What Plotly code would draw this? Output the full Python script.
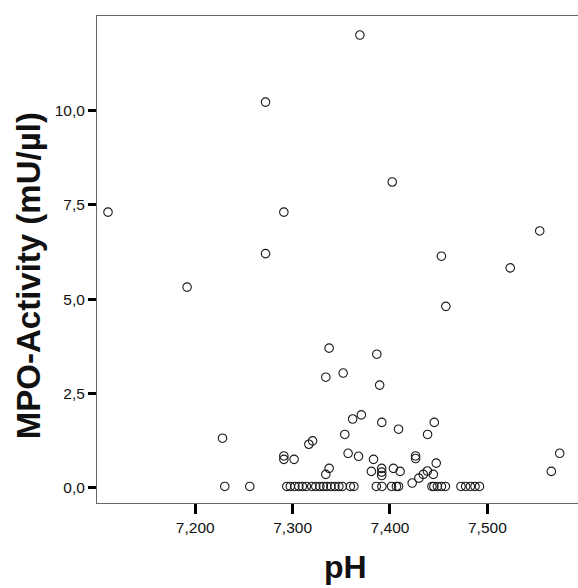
import plotly.graph_objects as go

# Non-zero observations (pH, MPO-activity)
ph_nonzero = [7.2722, 7.1104, 7.2910, 7.2722, 7.3691, 7.4023, 7.5538, 7.4528, 7.1916, 7.3375,
              7.3341, 7.2280, 7.3205, 7.3167, 7.2910, 7.2910, 7.3015, 7.3375, 7.3341, 7.5235,
              7.4574, 7.3865, 7.3519, 7.3894, 7.3706, 7.3617, 7.3916, 7.4455, 7.4088, 7.4386,
              7.3536, 7.3570, 7.3677, 7.3831, 7.4263, 7.4263, 7.4475, 7.5743, 7.5657, 7.3809,
              7.3915, 7.3915, 7.3915, 7.4035, 7.4104, 7.4228, 7.4297, 7.4342, 7.4384, 7.4445]
mpo_nonzero = [10.23, 7.31, 7.31, 6.21, 12.01, 8.11, 6.81, 6.14, 5.32, 3.70,
               2.93, 1.31, 1.24, 1.15, 0.84, 0.75, 0.75, 0.51, 0.35, 5.83,
               4.81, 3.54, 3.04, 2.72, 1.93, 1.82, 1.73, 1.73, 1.55, 1.41,
               1.41, 0.91, 0.83, 0.75, 0.84, 0.77, 0.65, 0.91, 0.43, 0.43,
               0.51, 0.41, 0.32, 0.51, 0.43, 0.12, 0.25, 0.35, 0.44, 0.35]

# Observations at (near) zero activity
ph_zero = [7.2303, 7.2560, 7.2940, 7.2976, 7.3023, 7.3064, 7.3100, 7.3141, 7.3197, 7.3238,
           7.3280, 7.3316, 7.3351, 7.3393, 7.3434, 7.3475, 7.3511, 7.3593, 7.3629, 7.3860,
           7.3917, 7.4016, 7.4066, 7.4088, 7.4431, 7.4451, 7.4487, 7.4528, 7.4569, 7.4729,
           7.4777, 7.4826, 7.4873, 7.4919]
mpo_zero = [0.03] * len(ph_zero)

ph = ph_nonzero + ph_zero
mpo = mpo_nonzero + mpo_zero

x_ticks = [7.2, 7.3, 7.4, 7.5]
y_ticks = [0, 2.5, 5, 7.5, 10]

FONT = "Arial, Liberation Sans, sans-serif"

fig = go.Figure()
fig.add_trace(go.Scatter(
    x=ph, y=mpo, mode="markers",
    marker=dict(symbol="circle-open", size=8.5, color="#1a1a1a", line=dict(width=1.1)),
    hoverinfo="x+y", showlegend=False, cliponaxis=False,
))

fig.update_layout(
    width=578, height=588,
    margin=dict(l=97, r=0, t=16, b=85),
    plot_bgcolor="white", paper_bgcolor="white",
    separators=",.",
    font=dict(family=FONT, color="#111"),
    xaxis=dict(
        range=[7.0991, 7.5931], tickvals=x_ticks, tickformat=".3f",
        ticks="outside", ticklen=10, tickwidth=3, tickcolor="black",
        showline=True, linecolor="#666", linewidth=1, mirror=True,
        showgrid=False, zeroline=False,
        tickfont=dict(size=15.5, color="#111"),
    ),
    yaxis=dict(
        range=[-0.409, 12.515], tickvals=y_ticks, tickformat=".1f",
        ticks="outside", ticklen=8, tickwidth=3, tickcolor="black",
        showline=True, linecolor="#666", linewidth=1, mirror=False,
        showgrid=False, zeroline=False,
        tickfont=dict(size=15.5, color="#111"),
    ),
    annotations=[
        dict(text="<b>pH</b>", xref="paper", yref="paper", x=(345 - 97) / 481, y=-(567 - 502.7) / 486.7,
             xanchor="center", yanchor="middle", showarrow=False,
             font=dict(size=32, family=FONT, color="#111")),
        dict(text="<b>MPO-Activity (mU/µl)</b>", xref="paper", yref="paper",
             x=-(97 - 28) / 481, y=(502.7 - 276) / 486.7, textangle=-90,
             xanchor="center", yanchor="middle", showarrow=False,
             font=dict(size=33, family=FONT, color="#111")),
    ],
)

fig.write_html("out.html")
